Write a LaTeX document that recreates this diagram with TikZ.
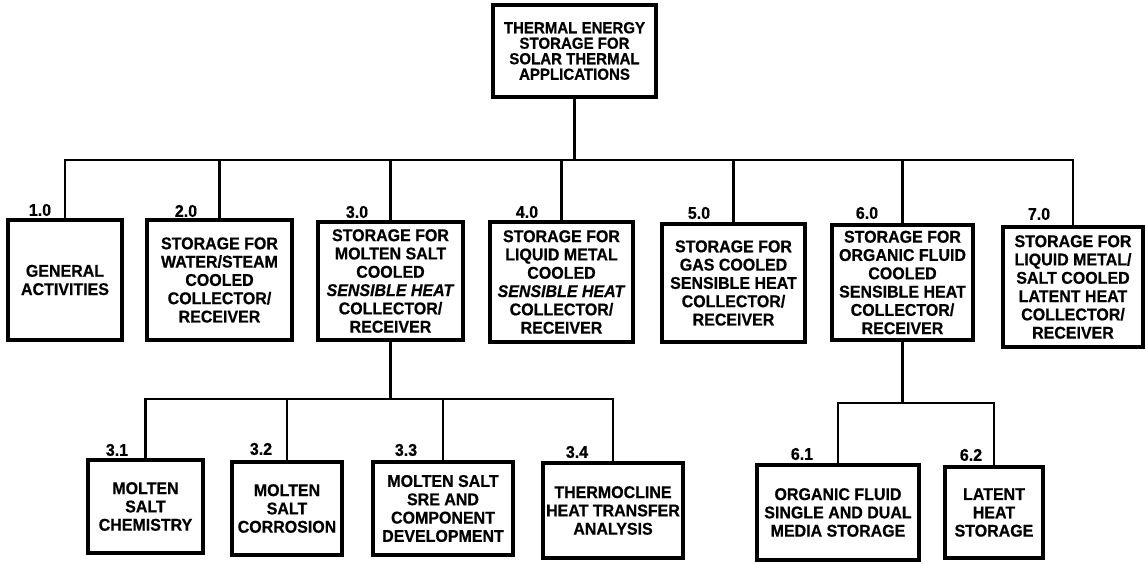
\documentclass[tikz,border=0pt]{standalone}
\usepackage{fontspec}
\setmainfont{Liberation Sans}[FakeStretch=0.94, BoldFeatures={FakeBold=0.6}, BoldItalicFeatures={FakeBold=0.6}]
\begin{document}
\begin{tikzpicture}[x=1pt,y=-1pt,
  box/.style={draw=black, line width=3.2pt, fill=white, inner sep=0pt, outer sep=0pt,
    align=center, font=\bfseries\fontsize{17}{18.3}\selectfont},
  topbox/.style={box, font=\bfseries\fontsize{16}{15.5}\selectfont},
  num/.style={inner sep=0pt, font=\bfseries\fontsize{17}{18}\selectfont},
  conn/.style={draw=black, line width=2.4pt, line cap=rect}]
\useasboundingbox (0,0) rectangle (1146,563);
\fill[white] (0,0) rectangle (1146,563);

% top
\node[topbox, minimum width=163pt, minimum height=92pt] (top) at (574.5,51)
  {THERMAL ENERGY\\STORAGE FOR\\SOLAR THERMAL\\APPLICATIONS};

% level 1
\node[box, minimum width=114pt, minimum height=120pt] (n1) at (65,280) {GENERAL\\ACTIVITIES};
\node[box, minimum width=145pt, minimum height=120pt] (n2) at (219.5,280)
  {STORAGE FOR\\WATER/STEAM\\COOLED\\COLLECTOR/\\RECEIVER};
\node[box, minimum width=145pt, minimum height=118pt] (n3) at (390.5,281)
  {STORAGE FOR\\MOLTEN SALT\\COOLED\\\textit{SENSIBLE HEAT}\\COLLECTOR/\\RECEIVER};
\node[box, minimum width=143pt, minimum height=120pt] (n4) at (561.5,282)
  {STORAGE FOR\\LIQUID METAL\\COOLED\\\textit{SENSIBLE HEAT}\\COLLECTOR/\\RECEIVER};
\node[box, minimum width=143pt, minimum height=118pt] (n5) at (733.5,283)
  {STORAGE FOR\\GAS COOLED\\SENSIBLE HEAT\\COLLECTOR/\\RECEIVER};
\node[box, minimum width=141pt, minimum height=115pt] (n6) at (902.5,282.5)
  {STORAGE FOR\\ORGANIC FLUID\\COOLED\\SENSIBLE HEAT\\COLLECTOR/\\RECEIVER};
\node[box, minimum width=140pt, minimum height=120pt] (n7) at (1073,287)
  {STORAGE FOR\\LIQUID METAL/\\SALT COOLED\\LATENT HEAT\\COLLECTOR/\\RECEIVER};

% level 2
\node[box, minimum width=115pt, minimum height=93pt] (n31) at (145.5,506.5) {MOLTEN\\SALT\\CHEMISTRY};
\node[box, minimum width=110pt, minimum height=93pt] (n32) at (287,508.5) {MOLTEN\\SALT\\CORROSION};
\node[box, minimum width=140pt, minimum height=93pt] (n33) at (443,508.5)
  {MOLTEN SALT\\SRE AND\\COMPONENT\\DEVELOPMENT};
\node[box, minimum width=140pt, minimum height=95pt] (n34) at (613,510.5)
  {THERMOCLINE\\HEAT TRANSFER\\ANALYSIS};
\node[box, minimum width=162pt, minimum height=95pt] (n61) at (838,512.5)
  {ORGANIC FLUID\\SINGLE AND DUAL\\MEDIA STORAGE};
\node[box, minimum width=98pt, minimum height=91pt] (n62) at (994,512.5) {LATENT\\HEAT\\STORAGE};

% numbers
\node[num] (l10) at (40,210) {1.0};
\node[num] (l20) at (186,211) {2.0};
\node[num] (l30) at (357,212) {3.0};
\node[num] (l40) at (527,212) {4.0};
\node[num] (l50) at (699,213) {5.0};
\node[num] (l60) at (867,213) {6.0};
\node[num] (l70) at (1039,214) {7.0};
\node[num] (l31) at (117,450) {3.1};
\node[num] (l32) at (261,449) {3.2};
\node[num] (l33) at (406,450) {3.3};
\node[num] (l34) at (577,452) {3.4};
\node[num] (l61) at (802,454) {6.1};
\node[num] (l62) at (971,455) {6.2};

% connectors
\coordinate (busA) at (0,160);
\coordinate (busB) at (0,399);
\coordinate (busC) at (0,403);
\draw[conn] (top.south) -- (top.south |- busA);
\draw[conn] (n1.north) -- (n1.north |- busA) -- (n7.north |- busA) -- (n7.north);
\foreach \n in {n2,n3,n4,n5,n6} \draw[conn] (\n.north) -- (\n.north |- busA);

\draw[conn] (n3.south) -- (n3.south |- busB);
\draw[conn] (n31.north) -- (n31.north |- busB) -- (n34.north |- busB) -- (n34.north);
\foreach \n in {n32,n33} \draw[conn] (\n.north) -- (\n.north |- busB);

\draw[conn] (n6.south) -- (n6.south |- busC);
\draw[conn] (n61.north) -- (n61.north |- busC) -- (n62.north |- busC) -- (n62.north);
\end{tikzpicture}
\end{document}
